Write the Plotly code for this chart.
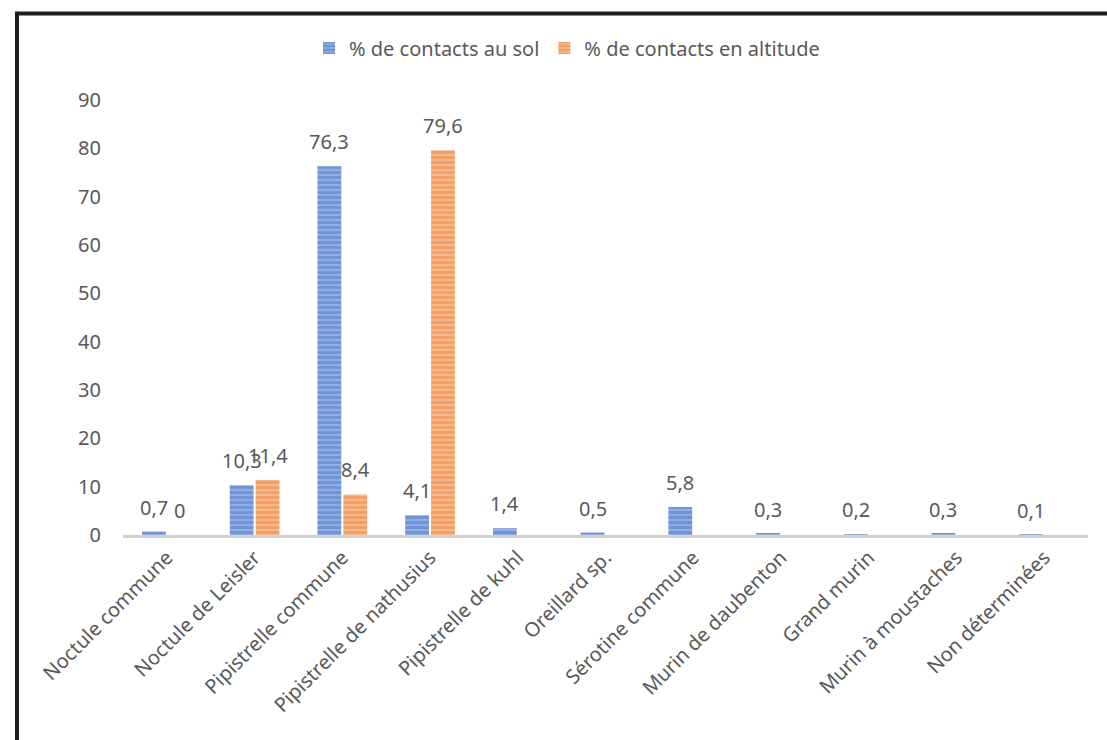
import plotly.graph_objects as go

categories = ["Noctule commune", "Noctule de Leisler", "Pipistrelle commune",
              "Pipistrelle de nathusius", "Pipistrelle de kuhl", "Oreillard sp.",
              "Sérotine commune", "Murin de daubenton", "Grand murin",
              "Murin à moustaches", "Non déterminées"]
sol = [0.7, 10.3, 76.3, 4.1, 1.4, 0.5, 5.8, 0.3, 0.2, 0.3, 0.1]
altitude = [0, 11.4, 8.4, 79.6, None, None, None, None, None, None, None]
y_ticks = [0, 10, 20, 30, 40, 50, 60, 70, 80, 90]

def fmt(v):
    return "" if v is None else (f"{v:g}".replace(".", ","))

FONT = "Noto Sans"
GRAY = "#595959"

fig = go.Figure()
fig.add_trace(go.Bar(
    name="% de contacts au sol", x=categories, y=sol,
    marker=dict(color="#9cb6e6", line=dict(width=0),
                pattern=dict(shape="-", fgcolor="#4472c4", size=5, solidity=0.7)),
))
fig.add_trace(go.Bar(
    name="% de contacts en altitude", x=categories, y=altitude,
    marker=dict(color="#f8c29a", line=dict(width=0),
                pattern=dict(shape="-", fgcolor="#ed7d31", size=5, solidity=0.7)),
))

L, R, T, B = 123, 19, 100, 205
W, H = 1107, 740
pw, ph = W - L - R, H - T - B

def px(x):
    return (x - L) / pw

def py(y):
    return (H - B - y) / ph

# data labels placed over each bar of the group
slot = pw / len(categories)
bar_shift = slot * (1 - 0.41) / 4
annotations = []
for series, sign in ((sol, -1), (altitude, 1)):
    for cat, v in zip(categories, series):
        if v is None:
            continue
        annotations.append(dict(
            x=cat, y=v, xref="x", yref="y", text=fmt(v), showarrow=False,
            xanchor="center", yanchor="bottom", xshift=sign * bar_shift, yshift=9,
            font=dict(size=20, color=GRAY, family=FONT),
        ))

fig.update_layout(
    width=W, height=H,
    margin=dict(l=L, r=R, t=T, b=B, autoexpand=False),
    paper_bgcolor="white", plot_bgcolor="white",
    barmode="group", bargap=0.41, bargroupgap=0.08,
    font=dict(family=FONT, color=GRAY, size=20),
    showlegend=True,
    legend=dict(orientation="h", x=px(567), xanchor="center", y=py(48), yanchor="middle",
                font=dict(size=20, color=GRAY, family=FONT), itemwidth=30,
                bgcolor="rgba(0,0,0,0)"),
    xaxis=dict(showline=True, linecolor="#d0d0d0", linewidth=3, ticks="",
               tickangle=-45, tickfont=dict(size=20, color=GRAY, family=FONT),
               showgrid=False, zeroline=False),
    yaxis=dict(range=[0, 90], tickvals=y_ticks, ticks="", showline=False,
               showgrid=False, zeroline=False,
               tickfont=dict(size=20, color=GRAY, family=FONT), ticklabelstandoff=21),
    annotations=annotations,
    shapes=[
        dict(type="line", xref="paper", yref="paper", x0=px(17), x1=px(17),
             y0=py(12), y1=py(745), line=dict(color="#1f1f1f", width=4)),
        dict(type="line", xref="paper", yref="paper", x0=px(15), x1=px(1110),
             y0=py(13.5), y1=py(13.5), line=dict(color="#1f1f1f", width=4)),
    ],
)

fig.write_html("out.html")
